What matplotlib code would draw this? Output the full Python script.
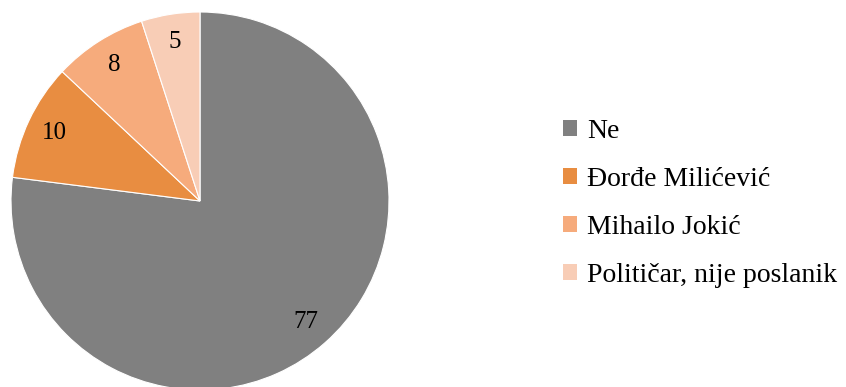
import matplotlib
matplotlib.use("Agg")
import matplotlib.pyplot as plt
from matplotlib.patches import Patch

labels = ["Ne", "Đorđe Milićević", "Mihailo Jokić", "Političar, nije poslanik"]
values = [77, 10, 8, 5]
colors = ["#808080", "#E88D41", "#F6AB7C", "#F8CDB6"]

plt.rcParams["font.family"] = ["Liberation Serif", "DejaVu Serif"]

W, H = 846, 387
fig = plt.figure(figsize=(W / 100, H / 100), dpi=100)

cx, cy, r = 200, 201, 189
ax = fig.add_axes([(cx - r) / W, (H - cy - r) / H, 2 * r / W, 2 * r / H])

wedges, texts = ax.pie(
    values,
    colors=colors,
    startangle=90,
    counterclock=False,
    labels=[str(v) for v in values],
    labeldistance=0.85,
    radius=1.0,
    wedgeprops=dict(edgecolor="white", linewidth=0.8),
    textprops=dict(fontsize=18, color="black"),
)
for t in texts:
    t.set_ha("center")
    t.set_va("center")
ax.set_xlim(-1, 1)
ax.set_ylim(-1, 1)
ax.set_aspect("equal")
ax.axis("off")

handles = [Patch(facecolor=c, edgecolor="none") for c in colors]
fig.legend(
    handles,
    labels,
    loc="upper left",
    bbox_to_anchor=(563 / W, 1 - 119 / H),
    frameon=False,
    fontsize=20,
    handlelength=0.52,
    handleheight=0.52,
    handletextpad=0.34,
    labelspacing=0.83,
    borderpad=0,
    borderaxespad=0,
)

fig.savefig("out.png", dpi=100)
